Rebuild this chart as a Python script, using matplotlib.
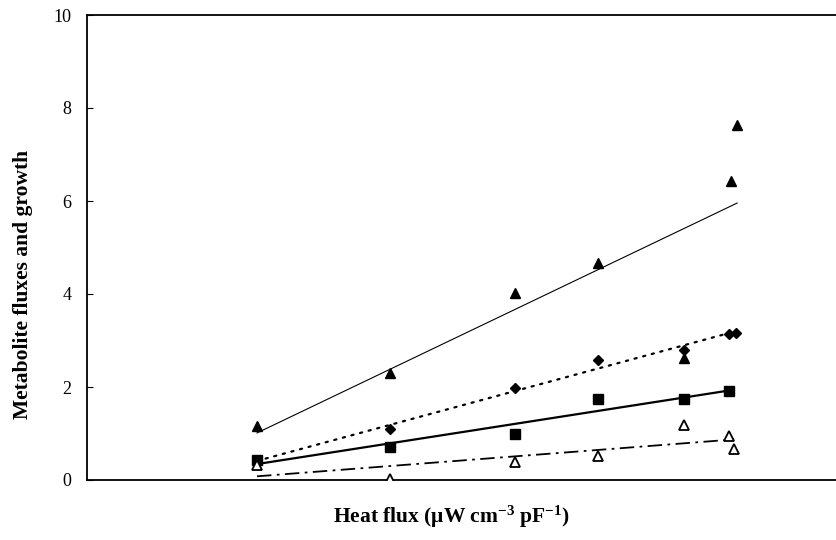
import numpy as np
import matplotlib
matplotlib.use("Agg")
import matplotlib.pyplot as plt

plt.rcParams['font.family'] = ['Liberation Serif', 'DejaVu Serif']
plt.rcParams['mathtext.fontset'] = 'custom'
plt.rcParams['mathtext.rm'] = 'Liberation Serif'
plt.rcParams['mathtext.bf'] = 'Liberation Serif:bold'
plt.rcParams['mathtext.default'] = 'bf'

# heat flux (arbitrary units, x axis carries no tick labels)
x_tri = [22.7, 40.5, 57.1, 68.2, 79.7, 86.0, 86.8]
y_tri = [1.16, 2.31, 4.02, 4.67, 2.62, 6.43, 7.63]

x_dia = [22.7, 40.5, 57.1, 68.2, 79.7, 85.7, 86.6]
y_dia = [0.40, 1.10, 1.98, 2.58, 2.80, 3.14, 3.16]

x_sq = [22.7, 40.5, 57.1, 68.2, 79.7, 85.7]
y_sq = [0.43, 0.71, 0.99, 1.74, 1.74, 1.91]

x_open = [22.7, 40.5, 57.1, 68.2, 79.7, 85.7, 86.4]
y_open = [0.33, 0.02, 0.39, 0.52, 1.18, 0.95, 0.67]

yticks = [0, 2, 4, 6, 8, 10]


def trend(ax, x, y, **kw):
    # linear trendline over the data range
    x = np.asarray(x)
    k, b = np.polyfit(x, y, 1)
    xs = np.array([x.min(), x.max()])
    ax.plot(xs, k * xs + b, color='black', zorder=2, **kw)


fig = plt.figure(figsize=(8.36, 5.40), dpi=100)
ax = fig.add_axes([87 / 836, 1 - 480 / 540, 749 / 836, 465 / 540])

trend(ax, x_tri, y_tri, lw=0.8, ls='-')
trend(ax, x_dia, y_dia, lw=1.6, ls=(0, (1, 3)), dash_capstyle='round')
trend(ax, x_sq, y_sq, lw=1.6, ls='-')
trend(ax, x_open, y_open, lw=1.3, ls=(0, (8, 3, 1.5, 3)))

ax.plot(x_dia, y_dia, 'D', color='black', ms=5.5, zorder=3)
ax.plot(x_sq, y_sq, 's', color='black', ms=6.5, zorder=3)
ax.plot(x_tri, y_tri, '^', color='black', ms=7.5, zorder=4)
ax.plot(x_open, y_open, '^', mfc='white', mec='black', mew=1.3, ms=7, zorder=4)

ax.set_xlim(0, 100)
ax.set_ylim(0, 10)
ax.set_yticks(yticks)
ax.set_xticks([])
ax.tick_params(axis='y', direction='in', length=4, width=0.8, labelsize=13, pad=11)

ax.spines['right'].set_visible(False)
for s in ['left', 'top', 'bottom']:
    ax.spines[s].set_linewidth(1.3)

ax.set_ylabel('Metabolite fluxes and growth', fontsize=15.5, fontweight='bold')
ax.yaxis.set_label_coords(-0.072, 0.42)
ax.set_xlabel('Heat flux (\u03bcW cm$^{-3}$ pF$^{-1}$)', fontsize=15.5, fontweight='bold')
ax.xaxis.set_label_coords(0.486, -0.052)

fig.savefig('out.png', dpi=100)
